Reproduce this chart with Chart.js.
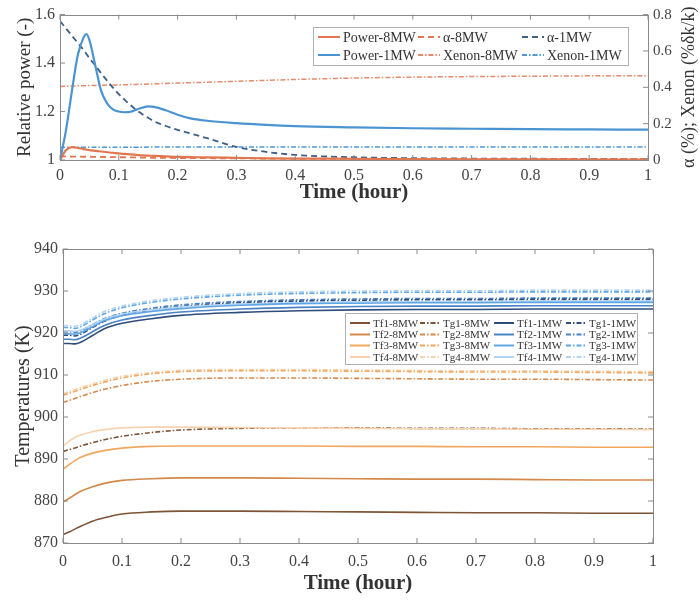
<!DOCTYPE html>
<html>
<head>
<meta charset="utf-8">
<script src="https://cdn.jsdelivr.net/npm/chart.js"></script>
<style>
  body { margin: 0; background: #fff; }
  #wrap { position: relative; width: 700px; height: 600px; }
  .box { position: absolute; left: 0; width: 700px; }
</style>
</head>
<body>
<div id="wrap">
  <div class="box" style="top:0;height:205px"><canvas id="powerChart"></canvas></div>
  <div class="box" style="top:205px;height:395px"><canvas id="tempChart"></canvas></div>
</div>

<script>
// ---- top panel: relative power, alpha, xenon ----
const tTop = [0, 0.01, 0.02, 0.03, 0.04, 0.045, 0.05, 0.06, 0.07, 0.08, 0.09, 0.1, 0.11, 0.12, 0.13, 0.14,
              0.15, 0.16, 0.18, 0.2, 0.22, 0.25, 0.3, 0.35, 0.4, 0.5, 0.6, 0.7, 0.8, 0.9, 1.0];
const power8 = [1.0, 1.04, 1.053, 1.05, 1.045, 1.043, 1.041, 1.038, 1.035, 1.032, 1.03, 1.027, 1.025, 1.023, 1.021, 1.019,
                1.018, 1.017, 1.015, 1.013, 1.012, 1.011, 1.009, 1.007, 1.006, 1.005, 1.004, 1.003, 1.003, 1.002, 1.002];
const power1 = [1.0, 1.12, 1.28, 1.43, 1.505, 1.52, 1.495, 1.39, 1.285, 1.234, 1.209, 1.2, 1.197, 1.199, 1.208, 1.216,
                1.221, 1.219, 1.205, 1.187, 1.173, 1.162, 1.152, 1.145, 1.14, 1.135, 1.131, 1.129, 1.127, 1.126, 1.125];
const alpha8 = [0.02, 0.02, 0.019, 0.019, 0.018, 0.018, 0.018, 0.017, 0.017, 0.016, 0.016, 0.015, 0.015, 0.014, 0.014, 0.013,
                0.013, 0.012, 0.012, 0.011, 0.011, 0.01, 0.009, 0.008, 0.007, 0.006, 0.006, 0.005, 0.005, 0.005, 0.005];
const alpha1 = [0.764, 0.725, 0.685, 0.645, 0.605, 0.583, 0.56, 0.52, 0.477, 0.437, 0.398, 0.362, 0.331, 0.302, 0.275, 0.252,
                0.232, 0.213, 0.187, 0.166, 0.148, 0.12, 0.072, 0.045, 0.028, 0.015, 0.01, 0.008, 0.007, 0.006, 0.005];
const xenon8 = [0.405, 0.406, 0.407, 0.408, 0.409, 0.409, 0.41, 0.41, 0.411, 0.412, 0.412, 0.413, 0.414, 0.415, 0.416, 0.417,
                0.418, 0.419, 0.421, 0.423, 0.425, 0.428, 0.433, 0.438, 0.443, 0.451, 0.456, 0.459, 0.461, 0.463, 0.464];
const xenon1 = [0.07, 0.07, 0.07, 0.07, 0.07, 0.07, 0.07, 0.07, 0.07, 0.07, 0.07, 0.07, 0.07, 0.07, 0.07, 0.07,
                0.071, 0.071, 0.071, 0.071, 0.071, 0.071, 0.071, 0.071, 0.072, 0.072, 0.072, 0.072, 0.072, 0.072, 0.072];

// ---- bottom panel: fuel / graphite temperatures ----
const tBot = [0, 0.01, 0.02, 0.03, 0.05, 0.07, 0.1, 0.15, 0.2, 0.3, 0.4, 0.5, 0.6, 0.7, 0.8, 0.9, 1.0];
const tf1_8 = [872.0, 872.6, 873.3, 874.0, 875.2, 876.0, 876.9, 877.4, 877.6, 877.6, 877.5, 877.4, 877.3, 877.2, 877.2, 877.1, 877.1];
const tf2_8 = [879.8, 880.6, 881.5, 882.3, 883.4, 884.2, 884.9, 885.3, 885.5, 885.5, 885.4, 885.3, 885.2, 885.2, 885.1, 885.0, 885.0];
const tf3_8 = [887.6, 888.6, 889.6, 890.4, 891.4, 892.0, 892.6, 893.0, 893.1, 893.1, 893.1, 893.0, 893.0, 892.9, 892.9, 892.8, 892.8];
const tf4_8 = [893.0, 894.2, 895.1, 895.7, 896.5, 897.0, 897.4, 897.6, 897.6, 897.5, 897.4, 897.3, 897.2, 897.2, 897.1, 897.1, 897.0];
const tg1_8 = [891.8, 892.2, 892.6, 893.1, 893.9, 894.6, 895.4, 896.3, 896.9, 897.3, 897.4, 897.4, 897.3, 897.3, 897.2, 897.2, 897.1];
const tg2_8 = [903.5, 903.9, 904.4, 904.9, 905.8, 906.6, 907.5, 908.5, 909.0, 909.3, 909.3, 909.2, 909.1, 909.0, 909.0, 908.9, 908.8];
const tg3_8 = [905.2, 905.6, 906.1, 906.6, 907.5, 908.3, 909.3, 910.3, 910.8, 911.0, 911.0, 910.9, 910.8, 910.7, 910.7, 910.6, 910.5];
const tg4_8 = [905.6, 906.0, 906.5, 907.0, 907.9, 908.7, 909.7, 910.6, 911.1, 911.3, 911.3, 911.2, 911.1, 911.0, 911.0, 910.9, 910.8];
const tf1_1 = [917.5, 917.5, 917.4, 917.8, 919.4, 921.0, 922.3, 923.4, 924.2, 924.9, 925.3, 925.5, 925.6, 925.6, 925.7, 925.7, 925.7];
const tf2_1 = [918.5, 918.5, 918.4, 918.8, 920.3, 921.8, 923.1, 924.2, 925.0, 925.7, 926.1, 926.3, 926.4, 926.4, 926.5, 926.5, 926.5];
const tf3_1 = [919.8, 919.8, 919.7, 920.1, 921.5, 922.9, 924.1, 925.1, 925.8, 926.6, 927.0, 927.1, 927.2, 927.2, 927.3, 927.3, 927.3];
const tf4_1 = [920.5, 920.5, 920.4, 920.7, 922.0, 923.3, 924.5, 925.5, 926.2, 926.9, 927.2, 927.4, 927.5, 927.5, 927.6, 927.6, 927.6];
const tg1_1 = [919.5, 919.5, 919.3, 919.7, 921.3, 922.8, 924.2, 925.5, 926.3, 927.2, 927.6, 927.8, 927.9, 927.9, 928.0, 928.0, 928.0];
const tg2_1 = [920.3, 920.3, 920.1, 920.5, 922.0, 923.4, 924.7, 925.9, 926.7, 927.5, 927.9, 928.1, 928.2, 928.2, 928.3, 928.3, 928.3];
const tg3_1 = [921.3, 921.3, 921.1, 921.5, 923.1, 924.6, 926.0, 927.3, 928.1, 929.0, 929.4, 929.6, 929.7, 929.7, 929.8, 929.8, 929.8];
const tg4_1 = [921.8, 921.8, 921.6, 922.0, 923.6, 925.1, 926.4, 927.7, 928.5, 929.4, 929.8, 930.0, 930.1, 930.1, 930.2, 930.2, 930.2];

Chart.defaults.font.family = "'Liberation Serif', 'DejaVu Serif', serif";
Chart.defaults.color = '#444';

const pts = (xs, ys) => xs.map((x, i) => ({ x: x, y: ys[i] }));
const fmt = v => String(+Number(v).toFixed(2));
const DASH = [6, 4];
const DASHDOT = [5, 2, 1.5, 2];

// box around plot, inward ticks, legend box, optional rotated right title
const framePlugin = {
  id: 'frame',
  afterDatasetsDraw(chart, args, opts) {
    const ctx = chart.ctx, a = chart.chartArea;
    ctx.save();
    ctx.strokeStyle = '#8a8a8a';
    ctx.lineWidth = 1;
    ctx.setLineDash([]);
    ctx.strokeRect(Math.round(a.left) + 0.5, Math.round(a.top) + 0.5, Math.round(a.right - a.left), Math.round(a.bottom - a.top));
    const seg = (x1, y1, x2, y2) => { ctx.beginPath(); ctx.moveTo(x1, y1); ctx.lineTo(x2, y2); ctx.stroke(); };
    const xs = chart.scales.x;
    xs.ticks.forEach(t => {
      const p = xs.getPixelForValue(t.value);
      seg(p, a.bottom, p, a.bottom - 5);
      seg(p, a.top, p, a.top + 5);
    });
    const ys = chart.scales.y;
    ys.ticks.forEach(t => {
      const p = ys.getPixelForValue(t.value);
      seg(a.left, p, a.left + 5, p);
      if (!chart.scales.y1) seg(a.right, p, a.right - 5, p);
    });
    if (chart.scales.y1) {
      const r = chart.scales.y1;
      r.ticks.forEach(t => {
        const p = r.getPixelForValue(t.value);
        seg(a.right, p, a.right - 5, p);
      });
    }

    // legend
    const L = opts.legend;
    if (L) {
      ctx.fillStyle = '#fff';
      ctx.fillRect(L.x, L.y, L.w, L.h);
      ctx.strokeStyle = '#b0b0b0';
      ctx.strokeRect(L.x + 0.5, L.y + 0.5, L.w, L.h);
      ctx.font = L.size + "px 'Liberation Serif', serif";
      ctx.textBaseline = 'middle';
      ctx.textAlign = 'left';
      L.cols.forEach((col, ci) => {
        col.forEach((di, ri) => {
          const ds = chart.data.datasets[di];
          const x0 = L.colX[ci], y0 = L.rowY[ri];
          ctx.strokeStyle = ds.borderColor;
          ctx.lineWidth = 2;
          ctx.setLineDash(ds.borderDash || []);
          seg(x0, y0, x0 + L.lineLen, y0);
          ctx.setLineDash([]);
          ctx.fillStyle = '#333';
          ctx.fillText(ds.label, x0 + L.lineLen + 3, y0 + 1);
        });
      });
    }

    if (opts.rightTitle) {
      ctx.save();
      ctx.translate(opts.rightTitle.x, (a.top + a.bottom) / 2);
      ctx.rotate(-Math.PI / 2);
      ctx.font = opts.rightTitle.size + "px 'Liberation Serif', serif";
      ctx.fillStyle = '#333';
      ctx.textAlign = 'center';
      ctx.textBaseline = 'middle';
      ctx.fillText(opts.rightTitle.text, 0, 0);
      ctx.restore();
    }
    ctx.restore();
  }
};

const tickFont = { size: 16 };
const noGrid = { display: false, drawTicks: false };
const xTimeAxis = (h, tickPad, titlePad) => ({
  type: 'linear', min: 0, max: 1,
  grid: noGrid, border: { display: false },
  ticks: { stepSize: 0.1, font: tickFont, padding: tickPad, callback: fmt, maxRotation: 0 },
  title: { display: true, text: 'Time (hour)', font: { size: 21, weight: 'bold' }, color: '#333', padding: { top: 0, bottom: titlePad } },
  afterFit: s => { s.height = h; }
});

// orange / blue used in top panel
const ORANGE = '#e2774f';
const BLUE = '#4a94d2';

new Chart(document.getElementById('powerChart'), {
  type: 'line',
  data: {
    datasets: [
      { label: 'Power-1MW', data: pts(tTop, power1), yAxisID: 'y', borderColor: BLUE, borderWidth: 2.2 },
      { label: 'Power-8MW', data: pts(tTop, power8), yAxisID: 'y', borderColor: ORANGE, borderWidth: 2.2 },
      { label: '\u03b1-8MW', data: pts(tTop, alpha8), yAxisID: 'y1', borderColor: ORANGE, borderWidth: 1.8, borderDash: DASH },
      { label: '\u03b1-1MW', data: pts(tTop, alpha1), yAxisID: 'y1', borderColor: '#3f5f86', borderWidth: 1.8, borderDash: DASH },
      { label: 'Xenon-8MW', data: pts(tTop, xenon8), yAxisID: 'y1', borderColor: '#e58a6a', borderWidth: 1.5, borderDash: DASHDOT },
      { label: 'Xenon-1MW', data: pts(tTop, xenon1), yAxisID: 'y1', borderColor: '#4f97d6', borderWidth: 1.5, borderDash: DASHDOT }
    ]
  },
  options: {
    responsive: true, maintainAspectRatio: false, animation: false,
    layout: { padding: { top: 13, left: 0, right: 0, bottom: 0 } },
    elements: { point: { radius: 0 }, line: { cubicInterpolationMode: 'monotone', fill: false } },
    plugins: {
      legend: { display: false }, tooltip: { enabled: false },
      frame: {
        legend: { x: 313, y: 27, w: 315, h: 38, size: 14, lineLen: 22,
                  colX: [318, 418, 522], rowY: [37, 55],
                  cols: [[1, 0], [2, 4], [3, 5]] },
        rightTitle: { x: 689, size: 18, text: '\u03b1 (%); Xenon (%\u03b4k/k)' }
      }
    },
    scales: {
      x: xTimeAxis(45, 6, 0),
      y: {
        position: 'left', min: 1, max: 1.6,
        grid: noGrid, border: { display: false },
        ticks: { stepSize: 0.2, font: tickFont, padding: 5, callback: fmt },
        title: { display: true, text: 'Relative power (-)', font: { size: 19 }, color: '#333', padding: { top: 14, bottom: 0 } },
        afterFit: s => { s.width = 60; }
      },
      y1: {
        position: 'right', min: 0, max: 0.8,
        grid: noGrid, border: { display: false },
        ticks: { stepSize: 0.2, font: { size: 15 }, padding: 5, callback: fmt },
        afterFit: s => { s.width = 52; }
      }
    }
  },
  plugins: [framePlugin]
});

// bottom panel colours: dark -> light
const C8 = ['#7d5536', '#d4884a', '#f2a65e', '#f6d3ae'];
const C1 = ['#2e4d7c', '#4a82c6', '#5ea6e6', '#b3d5f2'];

const tempSets = [
  ['Tf1-8MW', tf1_8, C8[0], []], ['Tf2-8MW', tf2_8, C8[1], []], ['Tf3-8MW', tf3_8, C8[2], []], ['Tf4-8MW', tf4_8, C8[3], []],
  ['Tg1-8MW', tg1_8, C8[0], DASHDOT], ['Tg2-8MW', tg2_8, C8[1], DASHDOT], ['Tg3-8MW', tg3_8, C8[2], DASHDOT], ['Tg4-8MW', tg4_8, C8[3], DASHDOT],
  ['Tf1-1MW', tf1_1, C1[0], []], ['Tf2-1MW', tf2_1, C1[1], []], ['Tf3-1MW', tf3_1, C1[2], []], ['Tf4-1MW', tf4_1, C1[3], []],
  ['Tg1-1MW', tg1_1, C1[0], DASHDOT], ['Tg2-1MW', tg2_1, C1[1], DASHDOT], ['Tg3-1MW', tg3_1, C1[2], DASHDOT], ['Tg4-1MW', tg4_1, C1[3], DASHDOT]
];

new Chart(document.getElementById('tempChart'), {
  type: 'line',
  data: {
    datasets: tempSets.map(s => ({
      label: s[0], data: pts(tBot, s[1]), borderColor: s[2], borderDash: s[3], borderWidth: 1.6
    }))
  },
  options: {
    responsive: true, maintainAspectRatio: false, animation: false,
    layout: { padding: { top: 44, left: 0, right: 47, bottom: 0 } },
    elements: { point: { radius: 0 }, line: { cubicInterpolationMode: 'monotone', fill: false } },
    plugins: {
      legend: { display: false }, tooltip: { enabled: false },
      frame: {
        legend: { x: 345, y: 108, w: 292, h: 51, size: 11, lineLen: 20,
                  colX: [350, 420, 494, 566], rowY: [118, 129.5, 140.5, 152],
                  cols: [[0, 1, 2, 3], [4, 5, 6, 7], [8, 9, 10, 11], [12, 13, 14, 15]] }
      }
    },
    scales: {
      x: xTimeAxis(57, 9, 4),
      y: {
        min: 870, max: 940,
        grid: noGrid, border: { display: false },
        ticks: { stepSize: 10, font: tickFont, padding: 5 },
        title: { display: true, text: 'Temperatures (K)', font: { size: 20 }, color: '#333', padding: { top: 12, bottom: 0 } },
        afterFit: s => { s.width = 63; }
      }
    }
  },
  plugins: [framePlugin]
});
</script>
</body>
</html>
